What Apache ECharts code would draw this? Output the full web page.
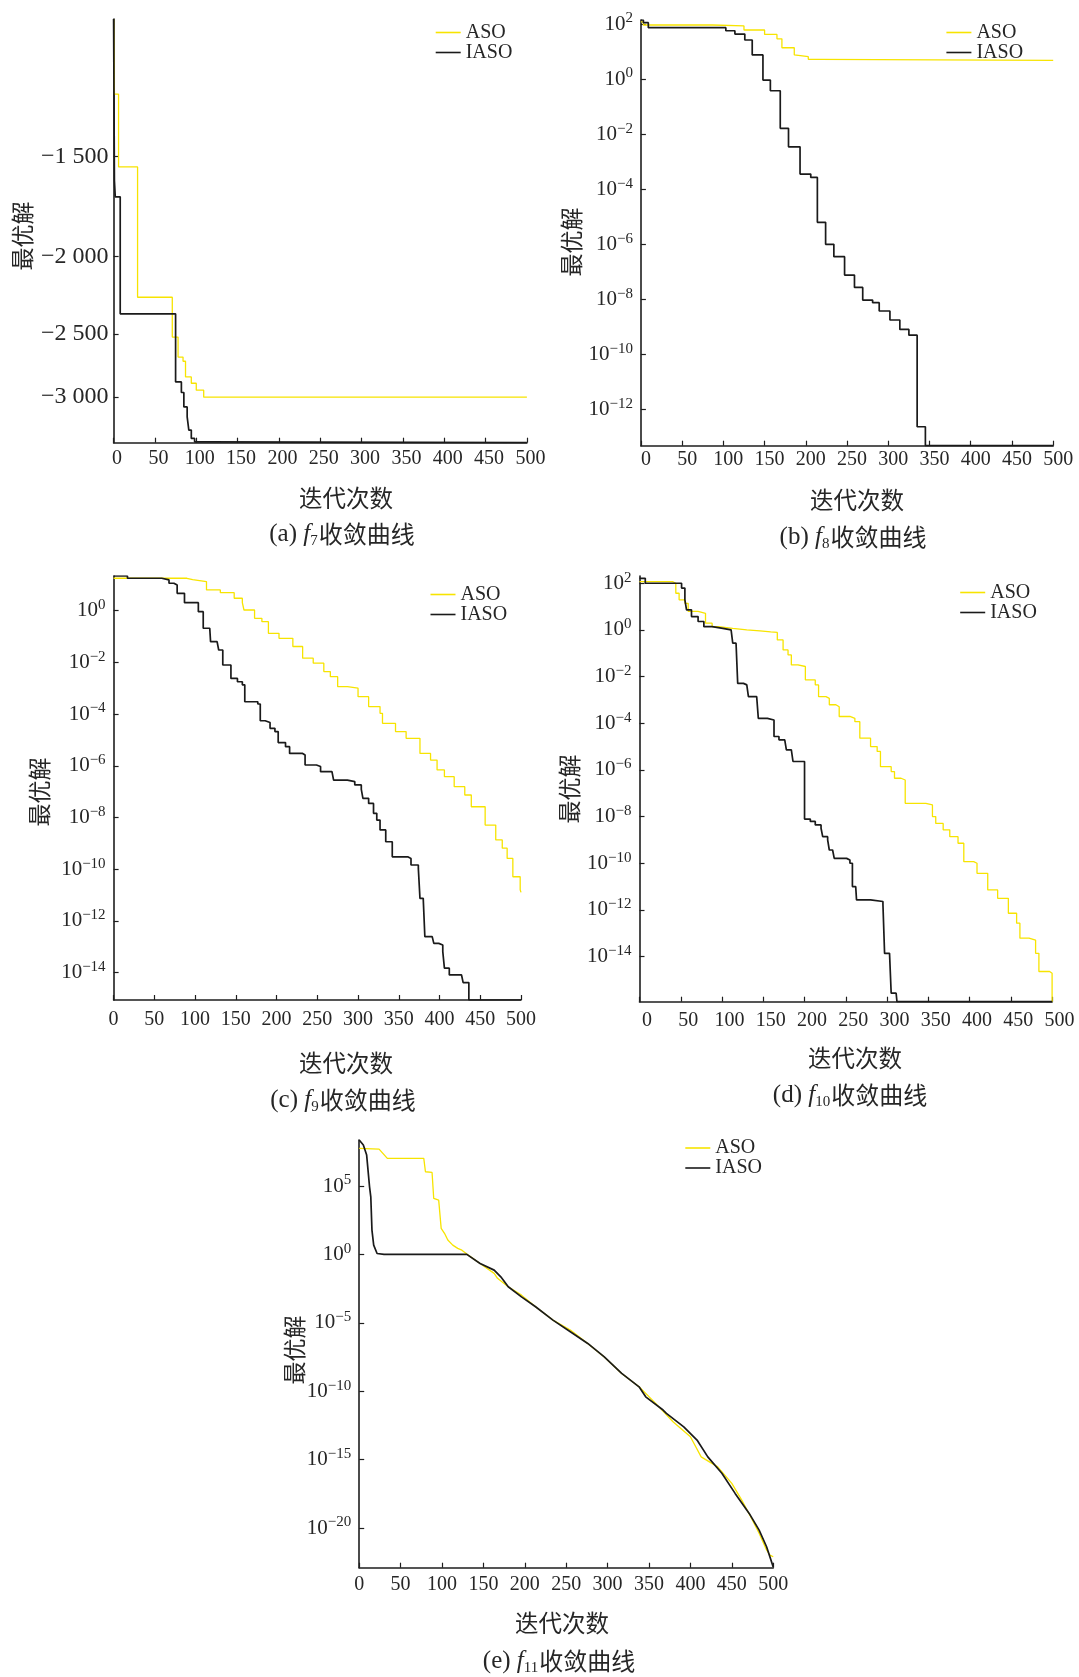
<!DOCTYPE html>
<html><head><meta charset="utf-8">
<script src="https://cdn.jsdelivr.net/npm/echarts@6/dist/echarts.min.js"></script>
<style>html,body{margin:0;padding:0;background:#fff}#c{width:1079px;height:1677px}</style>
</head><body><div id="c"></div>
<script>
// ---------------- DATA ----------------
// (a) f7  (best solution, negative values)
const aAsoIter  = [0,1,6,29,71,78,84,87,94,100,109,500];
const aAsoVal   = [-1010,-1254,-1546,-2250,-2523,-2673,-2705,-2830,-2882,-2940,-3000,-3000];
const aIasoIter = [0,1,2,8,75,82,85,89,91,94,98,112,500];
const aIasoVal  = [-1010,-1609,-1685,-2360,-2871,-2960,-3085,-3175,-3298,-3378,-3411,-3420,-3420];
const aYTicks   = [-1500,-2000,-2500,-3000];
const aYRange   = [-1010,-3420];

// (b) f8
const bAsoIter  = [0,3,87,125,150,165,171,186,188,203,216,500];
const bAsoVal   = [120,92,85,60.5,42,29,13.7,7.5,6.5,5.2,4.8,4.8];
const bIasoIter = [0,3,9,103,114,126,135,148,157,169,179,193,206,214,224,234,247,259,269,281,289,302,314,325,335,345,500];
const bIasoVal  = [140,112,73.5,57,43,26.2,7.5,0.92,0.376,1.61e-2,3.45e-3,3.5e-4,2.66e-4,6.2e-6,9.8e-7,3.5e-7,7.5e-8,2.66e-8,9.2e-9,7.4e-9,3.7e-9,1.74e-9,7.9e-10,4.9e-10,2.3e-13,4.7e-14,4.7e-14];
const bYTickExp = [2,0,-2,-4,-6,-8,-10,-12];
const bYRange   = [4.7e-14,140];

// (c) f9
const cAsoIter  = [0,90,97,114,131,148,158,160,173,182,190,203,220,232,245,258,266,275,287,300,313,327,330,346,359,376,389,397,406,418,431,439,456,469,477,483,490,499,500];
const cAsoVal   = [17.9,15.8,13.3,6.31,4.97,3.02,2.04,1.06,0.506,0.376,0.133,8.5e-2,4.1e-2,1.45e-2,9.3e-3,4.4e-3,2.8e-3,1.15e-3,1.0e-3,4.7e-4,1.95e-4,1.07e-4,4.4e-5,2.1e-5,1.15e-5,3.0e-6,1.66e-6,6.9e-7,3.8e-7,1.55e-7,7.4e-8,2.6e-8,5.1e-9,1.35e-9,6.5e-10,2.6e-10,5.1e-11,1.6e-11,1.26e-11];
const cIasoIter = [0,17,59,68,74,78,87,104,110,118,119,127,129,134,144,152,158,161,177,180,186,192,198,202,211,216,232,235,249,254,268,270,287,296,304,306,313,319,323,327,334,342,361,365,374,376,380,382,391,393,399,404,406,412,427,429,436,500];
const cIasoVal  = [21.9,17.9,15.5,11.5,9.77,4.68,2.04,0.912,0.209,0.178,6.31e-2,5.5e-2,3.0e-2,7.9e-3,2.4e-3,1.78e-3,1.35e-3,3.0e-4,2.45e-4,5.5e-5,4.7e-5,2.8e-5,2.1e-5,7.9e-6,5.5e-6,3.0e-6,2.6e-6,1.07e-6,9.3e-7,5.9e-7,5.1e-7,2.8e-7,2.45e-7,1.82e-7,1.23e-7,5.5e-8,3.5e-8,1.45e-8,7.9e-9,3.3e-9,1.15e-9,3.0e-10,2.6e-10,1.45e-10,1.07e-10,7.4e-12,6.5e-12,2.45e-13,2.1e-13,1.35e-13,1.17e-13,6.5e-14,1.48e-14,8.1e-15,7.4e-15,4.1e-15,8.7e-16,8.7e-16];
const cYTickExp = [0,-2,-4,-6,-8,-10,-12,-14];
const cYRange   = [8.7e-16,21.9];

// (d) f10
const dAsoIter  = [0,40,44,48,55,59,71,80,88,96,113,130,146,159,167,174,180,184,192,201,213,217,226,230,238,242,255,261,267,280,288,292,305,309,317,322,347,355,359,368,376,386,393,405,409,422,434,447,457,461,472,480,484,497,500];
const dAsoVal   = [117,100,37.2,19.5,13.8,6.17,5.13,1.95,1.38,1.17,1.0,0.912,0.82,0.776,0.372,0.138,8.5e-2,3.16e-2,2.7e-2,7.2e-3,4.4e-3,1.38e-3,1.17e-3,6.2e-4,5.1e-4,1.95e-4,1.62e-4,1.17e-4,2.3e-5,1.0e-5,6.2e-6,1.38e-6,8.5e-7,4.4e-7,3.7e-7,3.7e-8,3.16e-8,1.0e-8,5.1e-9,2.7e-9,1.38e-9,7.2e-10,1.17e-10,1.0e-10,3.7e-11,7.2e-12,3.16e-12,7.2e-13,2.7e-13,6.2e-14,5.1e-14,1.38e-14,2.3e-15,1.95e-15,1.17e-16];
const dIasoIter = [0,7,51,55,57,63,71,78,88,101,111,113,117,119,126,130,132,142,144,155,163,169,176,178,184,186,200,207,213,220,222,228,230,234,236,251,255,258,262,263,280,295,297,303,305,311,312,500];
const dIasoVal  = [162,100,61.7,19.5,7.24,3.72,2.29,1.38,1.17,1.0,0.851,0.269,0.229,5.1e-3,4.4e-3,3.7e-3,1.38e-3,1.17e-3,1.62e-4,1.38e-4,2.7e-5,1.95e-5,1.62e-5,7.2e-6,6.2e-6,2.3e-6,7.8e-9,6.2e-9,4.4e-9,3.16e-9,1.38e-9,1.0e-9,3.7e-10,3.5e-10,1.62e-10,1.38e-10,1.0e-10,1.0e-11,8.5e-12,2.7e-12,2.3e-12,1.74e-12,1.38e-14,1.29e-14,2.7e-16,2.3e-16,1.17e-16,1.17e-16];
const dYTickExp = [2,0,-2,-4,-6,-8,-10,-12,-14];
const dYRange   = [1.17e-16,204];

// (e) f11
const eAsoIter  = [0,24,34,78,80,88,90,96,99,103,107,113,119,124,130,146,163,167,180,196,213,234,255,276,296,317,338,358,379,400,413,433,450,462,475,483,492,496,500];
const eAsoVal   = [5.6e7,5.0e7,1.05e7,1.05e7,1.1e6,9.8e5,1.23e4,9.3e3,79.4,34.7,11.2,4.79,2.75,2.04,1.05,0.219,4.1e-2,1.78e-2,4.3e-3,1.05e-3,1.48e-4,1.58e-5,2.95e-6,3.1e-7,3.2e-8,2.0e-9,2.1e-10,1.29e-11,5.8e-13,4.7e-14,1.58e-15,2.95e-16,1.82e-17,1.1e-18,3.8e-20,4.1e-21,2.5e-22,1.05e-22,7.9e-23];
const eIasoIter = [0,5,9,12.5,14,15.4,17.5,21.6,30,130,146,163,171,180,196,213,234,255,276,296,317,338,346,367,371,392,408,421,438,454,471,483,492,500];
const eIasoVal  = [2.3e8,9.8e7,1.82e7,8.7e4,1.62e4,60,4.8,1.17,1.0,1.0,0.219,7.1e-2,2.3e-2,4.3e-3,7.9e-4,1.48e-4,1.58e-5,2.2e-6,3.1e-7,3.2e-8,2.0e-9,2.1e-10,3.9e-11,4.2e-12,2.4e-12,2.5e-13,2.7e-14,1.58e-15,1.0e-16,3.4e-18,1.17e-19,7.1e-21,4.3e-22,1.45e-23];
const eYTickExp = [5,0,-5,-10,-15,-20];
const eYRange   = [1.26e-23,2.3e8];

const seriesNames = ['ASO','IASO'];
const xAxisName = '迭代次数';
const yAxisName = '最优解';
const captionText = '收敛曲线';

// ---------------- LAYOUT / STYLE ----------------
const SERIF = '"Liberation Serif","DejaVu Serif",serif';
const CJK = '"Noto Sans CJK SC","Noto Sans CJK JP",sans-serif';
const YEL = '#f7e400', BLK = '#1a1a1a', TXT = '#262626', AX = '#1e1e1e';
const L10 = v => Math.log10(Math.abs(v));

const panels = [
  {id:'a', fn:'7',  grid:{left:113.6, top:19, width:413.3, height:423.7}, neg:true, range:aYRange, ticks:aYTicks.map(L10),
   aso:[aAsoIter,aAsoVal], iaso:[aIasoIter,aIasoVal], step:'end', leg:[435.7,22.5], xn:[346,498], yn:[22,236], cap:[342,534],
   xlm:6, xsh:7, ylm:5, ylf:24},
  {id:'b', fn:'8',  grid:{left:640.9, top:20, width:412.3, height:425.7}, neg:false, range:bYRange, ticks:bYTickExp,
   aso:[bAsoIter,bAsoVal], iaso:[bIasoIter,bIasoVal], step:'end', leg:[946.4,22.5], xn:[857,500], yn:[571,242], cap:[853,537],
   xlm:4, xsh:10, ylm:8, ylf:21},
  {id:'c', fn:'9',  grid:{left:113.6, top:576, width:407.4, height:424}, neg:false, range:cYRange, ticks:cYTickExp,
   aso:[cAsoIter,cAsoVal], iaso:[cIasoIter,cIasoVal], step:'end', leg:[430.5,584.5], xn:[346,1063], yn:[39,792], cap:[343,1100],
   xlm:10, xsh:0, ylm:8, ylf:21},
  {id:'d', fn:'10', grid:{left:639.5, top:576, width:412.6, height:425.7}, neg:false, range:dYRange, ticks:dYTickExp,
   aso:[dAsoIter,dAsoVal], iaso:[dIasoIter,dIasoVal], step:'end', leg:[960.2,582.5], xn:[855,1058], yn:[569,789], cap:[850,1095],
   xlm:9, xsh:15, ylm:8, ylf:21},
  {id:'e', fn:'11', grid:{left:359.2, top:1140, width:414, height:427.7}, neg:false, range:eYRange, ticks:eYTickExp,
   aso:[eAsoIter,eAsoVal], iaso:[eIasoIter,eIasoVal], step:false, leg:[685.3,1138], xn:[562,1623], yn:[294,1350], cap:[559,1661],
   xlm:7, xsh:0, ylm:8, ylf:21}
];

const pairs = (it, val) => it.map((x, i) => [x, L10(val[i])]);
const thousands = n => String(n).replace(/\B(?=(\d{3})+(?!\d))/g, ' ');
const expFmt = v => { const e = Math.round(v); return '10{s|' + (e < 0 ? '\u2212' + (-e) : e) + '}'; };

const option = {
  animation: false,
  backgroundColor: '#fff',
  grid: panels.map(p => Object.assign({containLabel:false}, p.grid)),
  xAxis: panels.map((p, i) => ({
    type: 'value', gridIndex: i, min: 0, max: 500, interval: 50,
    axisLine: {show: true, onZero: false, lineStyle: {color: AX, width: 1.6}},
    axisTick: {show: true, inside: true, length: 5, lineStyle: {color: AX, width: 1.2}},
    axisLabel: {fontFamily: SERIF, fontSize: 20, color: TXT, margin: p.xlm, padding: [0, 0, 0, p.xsh]},
    splitLine: {show: false}
  })),
  yAxis: panels.map((p, i) => ({
    type: 'value', gridIndex: i,
    min: L10(p.range[0]), max: L10(p.range[1]),
    inverse: p.neg,
    axisLine: {show: true, onZero: false, lineStyle: {color: AX, width: 1.6}},
    axisTick: {show: true, inside: true, length: 5, customValues: p.ticks, lineStyle: {color: AX, width: 1.2}},
    axisLabel: {
      customValues: p.ticks, fontFamily: SERIF, fontSize: p.ylf, color: TXT, margin: p.ylm,
      formatter: p.neg ? (v => '\u2212' + thousands(Math.round(Math.pow(10, v)))) : expFmt,
      rich: {s: {fontFamily: SERIF, fontSize: 15, color: TXT, padding: [0, 0, 11, 0]}}
    },
    splitLine: {show: false}
  })),
  legend: panels.map(p => ({
    data: seriesNames, orient: 'vertical', left: p.leg[0], top: p.leg[1], padding: 0,
    itemWidth: 25, itemHeight: 1.6, itemGap: 0, icon: 'rect', selectedMode: false,
    textStyle: {fontFamily: SERIF, fontSize: 20, color: TXT, lineHeight: 19}
  })),
  series: panels.flatMap((p, i) => [
    {name: 'ASO', type: 'line', xAxisIndex: i, yAxisIndex: i, data: pairs(p.aso[0], p.aso[1]),
     step: p.step, symbol: 'none', showSymbol: false, color: YEL, itemStyle: {color: YEL},
     lineStyle: {color: YEL, width: 1.3}, z: 2, silent: true},
    {name: 'IASO', type: 'line', xAxisIndex: i, yAxisIndex: i, data: pairs(p.iaso[0], p.iaso[1]),
     step: p.step, symbol: 'none', showSymbol: false, color: BLK, itemStyle: {color: BLK},
     lineStyle: {color: BLK, width: 1.7}, z: 3, silent: true}
  ]),
  graphic: panels.flatMap(p => [
    {type: 'text', x: p.xn[0], y: p.xn[1], silent: true,
     style: {text: xAxisName, fontFamily: CJK, fontSize: 23.5, fill: TXT, align: 'center', verticalAlign: 'middle'}},
    {type: 'text', x: p.yn[0], y: p.yn[1], rotation: Math.PI / 2, silent: true,
     style: {text: yAxisName, fontFamily: CJK, fontSize: 23, fill: TXT, align: 'center', verticalAlign: 'middle'}},
    {type: 'text', x: p.cap[0], y: p.cap[1], silent: true,
     style: {text: '(' + p.id + ') {i|f}{sub|' + p.fn + '}{c|' + captionText + '}',
       fontFamily: SERIF, fontSize: 25, fill: TXT, align: 'center', verticalAlign: 'middle',
       rich: {
         i: {fontFamily: SERIF, fontStyle: 'italic', fontSize: 25},
         sub: {fontFamily: SERIF, fontSize: 15, padding: [14, 1, 0, 0]},
         c: {fontFamily: CJK, fontSize: 24}
       }}}
  ])
};

const chart = echarts.init(document.getElementById('c'), null, {renderer: 'canvas', width: 1079, height: 1677});
chart.setOption(option);
</script>
</body></html>
